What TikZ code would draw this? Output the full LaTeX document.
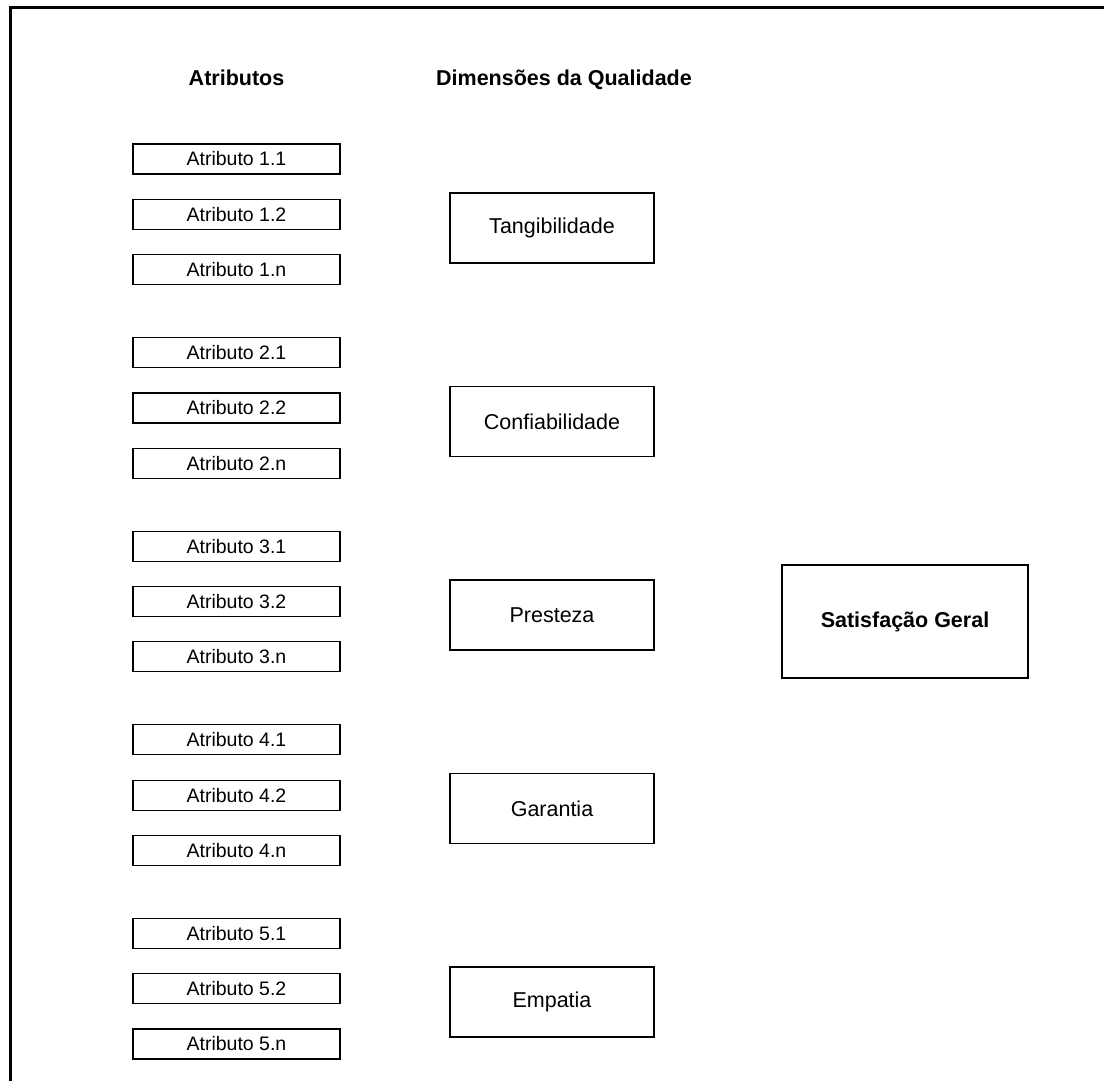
\documentclass[tikz,border=0pt]{standalone}
\usepackage{fontspec}
\setmainfont{Liberation Sans}
\begin{document}
\begin{tikzpicture}[x=1pt,y=-1pt,
  attr/.style={draw=black,line width=1.2pt,minimum width=207pt,minimum height=30pt,inner sep=0pt,font=\fontsize{19.5}{22}\selectfont},
  dim/.style={draw=black,line width=1.2pt,minimum width=204pt,minimum height=70pt,inner sep=0pt,font=\fontsize{21.5}{24}\selectfont},
  sat/.style={draw=black,line width=1.2pt,minimum width=246pt,minimum height=113pt,inner sep=0pt,font=\fontsize{21.5}{24}\selectfont\bfseries},
  head/.style={inner sep=0pt,anchor=base,font=\fontsize{21.5}{24}\selectfont\bfseries}]
\useasboundingbox (0,0) rectangle (1104,1080);
\coordinate (fb) at (10,1082);
\coordinate (fc) at (10,7.5);
\coordinate (fr) at (1106,7.5);
\draw[line width=3pt] (fb) -- (fc) -- (fr);
\node[head] (h1) at (236.5,85) {Atributos};
\node[head] (h2) at (564,85) {Dimensões da Qualidade};
\foreach \i in {1,...,5}{
  \foreach \j/\s in {0/1,1/2,2/n}{
    \node[attr] (a\i\s) at (236.5,{159+55.3*\j+193.6*(\i-1)}) {Atributo \i.\s};
  }
}
\node[dim] (d1) at (552,228) {Tangibilidade};
\node[dim] (d2) at (552,421.5) {Confiabilidade};
\node[dim] (d3) at (552,615) {Presteza};
\node[dim] (d4) at (552,808.5) {Garantia};
\node[dim] (d5) at (552,1002) {Empatia};
\node[sat] (s) at (905,621.5) {Satisfação Geral};
\end{tikzpicture}
\end{document}
